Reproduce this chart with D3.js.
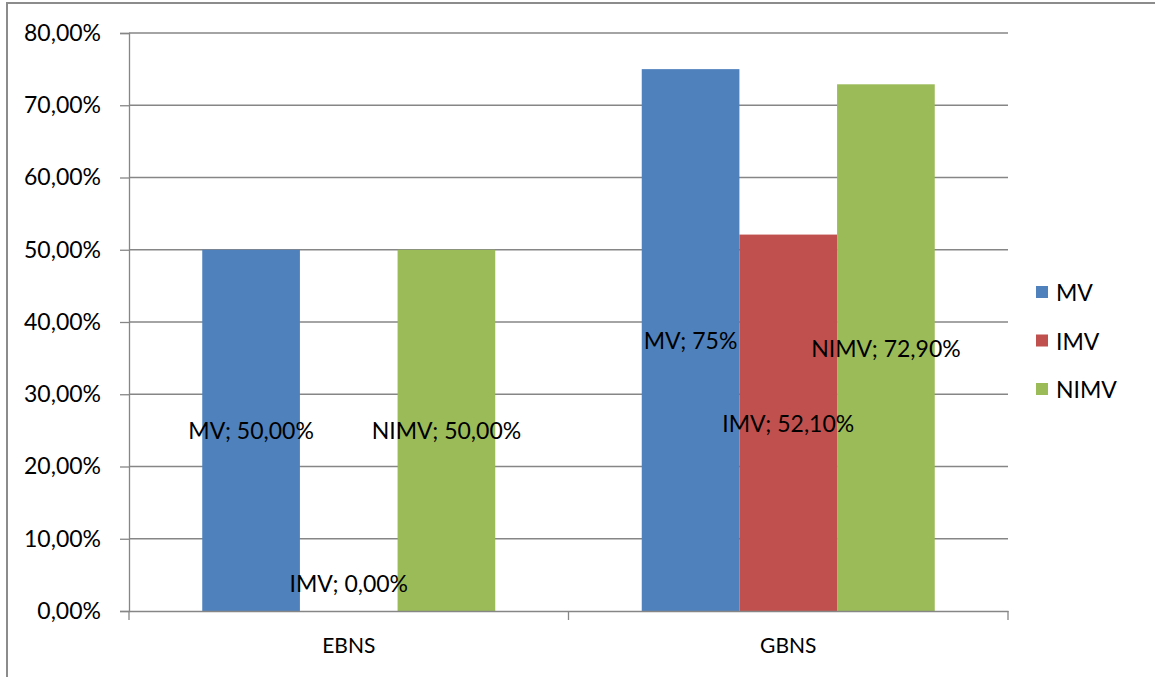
<!DOCTYPE html>
<html><head><meta charset="utf-8">
<script src="https://cdn.jsdelivr.net/npm/d3@7"></script>
<style>body{margin:0;background:#fff}svg{display:block;font-family:Lato,"Open Sans",sans-serif}</style>
</head><body>
<svg id="c" width="1155" height="677"></svg>
<script>
const categories = ["EBNS", "GBNS"];
const seriesNames = ["MV", "IMV", "NIMV"];
const MV = [50.0, 75.0];
const IMV = [0.0, 52.1];
const NIMV = [50.0, 72.9];
const labelText = [["MV; 50,00%", "MV; 75%"], ["IMV; 0,00%", "IMV; 52,10%"], ["NIMV; 50,00%", "NIMV; 72,90%"]];
const yTicks = [0, 10, 20, 30, 40, 50, 60, 70, 80];
const colors = ["#4f81bd", "#c0504d", "#9bbb59"];
const seriesVals = [MV, IMV, NIMV];

const svg = d3.select("#c");
svg.append("rect").attr("x", 7).attr("y", 3).attr("width", 1160).attr("height", 690)
  .attr("fill", "none").attr("stroke", "#8c8c8c").attr("stroke-width", 2);

const L = 129, R = 1008, T = 33, B = 611;
const x0 = d3.scaleBand().domain(categories).range([L, R]).paddingInner(0).paddingOuter(0);
const y = d3.scaleLinear().domain([0, 80]).range([B, T]);
const x1 = d3.scaleBand().domain(seriesNames).range([0, x0.bandwidth()]).paddingOuter(0.75).paddingInner(0);

const fmt = v => d3.format(".2f")(v).replace(".", ",") + "%";

// gridlines
svg.append("g").selectAll("line").data(yTicks.filter(t => t > 0)).join("line")
  .attr("x1", L).attr("x2", R).attr("y1", d => y(d)).attr("y2", d => y(d))
  .attr("stroke", "#868686").attr("stroke-width", 1.3);

// bars
seriesNames.forEach((s, si) => {
  svg.append("g").selectAll("rect").data(categories).join("rect")
    .attr("x", c => x0(c) + x1(s))
    .attr("width", x1.bandwidth())
    .attr("y", (c, i) => y(seriesVals[si][i]))
    .attr("height", (c, i) => B - y(seriesVals[si][i]))
    .attr("fill", colors[si]);
});

// y axis
const yAxis = d3.axisLeft(y).tickValues(yTicks).tickFormat(fmt).tickSizeOuter(0).tickSize(9).tickPadding(19);
const ga = svg.append("g").attr("transform", `translate(${L},0)`).call(yAxis);
ga.select(".domain").attr("stroke", "#868686").attr("stroke-width", 1.3);
ga.selectAll(".tick line").attr("stroke", "#868686").attr("stroke-width", 1.3);
ga.selectAll("text").attr("font-size", 23).attr("fill", "#000").attr("font-family", "Lato");

// x axis
const xAxis = d3.axisBottom(x0).tickSize(0).tickPadding(27);
const gx = svg.append("g").attr("transform", `translate(0,${B})`).call(xAxis);
gx.select(".domain").attr("stroke", "#868686").attr("stroke-width", 1.3);
gx.selectAll("text").attr("font-size", 21).attr("fill", "#000").attr("font-family", "Lato");
// category boundary ticks
const bounds = [L, x0(categories[1]), R];
svg.append("g").selectAll("line").data(bounds).join("line")
  .attr("x1", d => d).attr("x2", d => d).attr("y1", B).attr("y2", B + 9)
  .attr("stroke", "#868686").attr("stroke-width", 1.3);

// data labels
seriesNames.forEach((s, si) => {
  svg.append("g").selectAll("text").data(categories).join("text")
    .attr("x", c => x0(c) + x1(s) + x1.bandwidth() / 2)
    .attr("y", (c, i) => {
      const v = seriesVals[si][i];
      return v === 0 ? y(v) - 28 : y(v / 2);
    })
    .attr("text-anchor", "middle").attr("dominant-baseline", "central")
    .attr("font-size", 23).attr("fill", "#000")
    .text((c, i) => labelText[si][i]);
});

// legend
const lg = svg.append("g");
seriesNames.forEach((s, i) => {
  const cy = 292 + i * 48.5;
  lg.append("rect").attr("x", 1036).attr("y", cy - 6).attr("width", 12).attr("height", 12).attr("fill", colors[i]);
  lg.append("text").attr("x", 1056).attr("y", cy).attr("dominant-baseline", "central")
    .attr("font-size", 23).attr("fill", "#000").text(s);
});
</script>
</body></html>
